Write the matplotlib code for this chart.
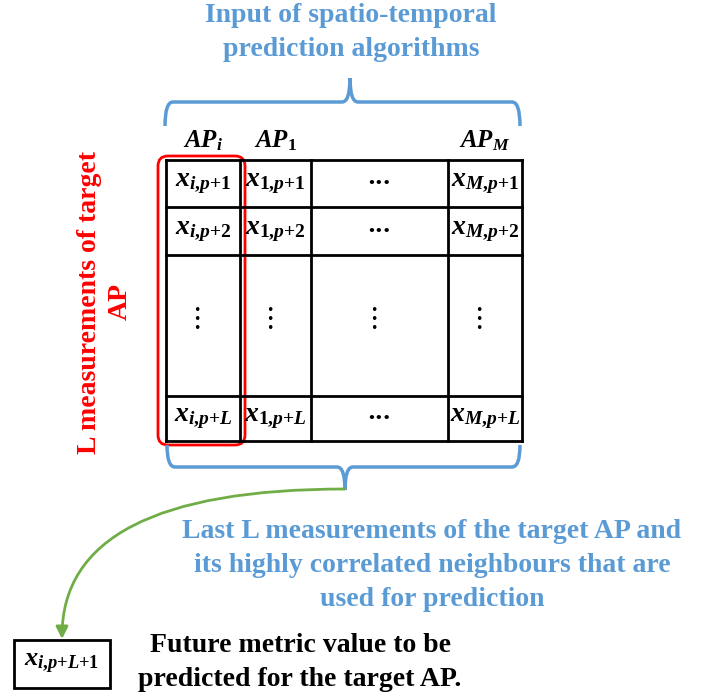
import matplotlib.pyplot as plt
from matplotlib.patches import FancyBboxPatch, FancyArrowPatch, PathPatch, Rectangle
from matplotlib.path import Path

plt.rcParams['font.family'] = ['Liberation Serif', 'DejaVu Serif']
plt.rcParams['mathtext.fontset'] = 'custom'
plt.rcParams['mathtext.it'] = 'Liberation Serif:italic:bold'
plt.rcParams['mathtext.rm'] = 'Liberation Serif:bold'
plt.rcParams['mathtext.bf'] = 'Liberation Serif:bold'

# 表头和单元格内容
headers = [r'$AP_i$', r'$AP_1$', '', r'$AP_M$']
cells = [
    [r'$x_{i{,}p{+}1}$', r'$x_{1{,}p{+}1}$', '•••', r'$x_{M{,}p{+}1}$'],
    [r'$x_{i{,}p{+}2}$', r'$x_{1{,}p{+}2}$', '•••', r'$x_{M{,}p{+}2}$'],
    ['vdots', 'vdots', 'vdots', 'vdots'],
    [r'$x_{i{,}p{+}L}$', r'$x_{1{,}p{+}L}$', '•••', r'$x_{M{,}p{+}L}$'],
]
target_cell = r'$x_{i{,}p{+}L{+}1}$'
top_text = ['Input of spatio-temporal', 'prediction algorithms']
bottom_text = ['Last L measurements of the target AP and',
               'its highly correlated neighbours that are',
               'used for prediction']
side_text = ['L measurements of target', 'AP']
future_text = ['Future metric value to be', 'predicted for the target AP.']

blue = '#5B9BD5'
green = '#70AD47'

# 表格网格（像素坐标）
col_edges = [166, 240, 311, 448, 522]
row_edges = [160, 207, 255, 396, 441]

fig = plt.figure(figsize=(7.12, 6.95), dpi=100)
ax = fig.add_axes([0, 0, 1, 1])
ax.set_xlim(0, 712)
ax.set_ylim(695, 0)
ax.axis('off')

for x in col_edges:
    ax.plot([x, x], [row_edges[0], row_edges[-1]], color='black', lw=2, solid_capstyle='projecting')
for y in row_edges:
    ax.plot([col_edges[0], col_edges[-1]], [y, y], color='black', lw=2, solid_capstyle='projecting')

for j, h in enumerate(headers):
    xc = (col_edges[j] + col_edges[j + 1]) / 2
    ax.text(xc, 141, h, ha='center', va='center', fontsize=18)

for i, row in enumerate(cells):
    yc = (row_edges[i] + row_edges[i + 1]) / 2
    for j, c in enumerate(row):
        xc = (col_edges[j] + col_edges[j + 1]) / 2
        if c == '•••':
            ax.text(xc, yc, c, ha='center', va='center', fontsize=9,
                    family=['DejaVu Sans'], fontweight='bold')
        elif c == 'vdots':
            ax.text(xc - 6, yc - 6, '•\n•\n•', ha='center', va='center', fontsize=9,
                    family=['DejaVu Sans'], linespacing=0.6)
        else:
            ax.text(xc, yc, c, ha='center', va='center', fontsize=20)

# 红色圆角框
ax.add_patch(FancyBboxPatch((158, 156), 87, 289, boxstyle='round,pad=0,rounding_size=10',
                            fill=False, ec='red', lw=2))


def brace(x0, x1, y_end, y_mid, y_tip, xc, r=8):
    verts = [(x0, y_end), (x0, y_mid), (x0 + r, y_mid),
             (xc - r, y_mid), (xc, y_mid), (xc, y_tip),
             (xc, y_mid), (xc + r, y_mid),
             (x1 - r, y_mid), (x1, y_mid), (x1, y_end)]
    codes = [Path.MOVETO, Path.CURVE3, Path.CURVE3,
             Path.LINETO, Path.CURVE3, Path.CURVE3,
             Path.CURVE3, Path.CURVE3,
             Path.LINETO, Path.CURVE3, Path.CURVE3]
    ax.add_patch(PathPatch(Path(verts, codes), fill=False, ec=blue, lw=2.5))


brace(165, 520, 126, 102, 78, 350)
brace(167, 520, 445, 467, 490, 345)

# 绿色弧形箭头
arc = Path([(345, 489), (62, 489), (62, 639)], [Path.MOVETO, Path.CURVE3, Path.CURVE3])
ax.add_patch(FancyArrowPatch(path=arc, arrowstyle='-|>', mutation_scale=18,
                             color=green, lw=2))

# 预测目标框
ax.add_patch(Rectangle((14, 640), 96, 48, fill=False, ec='black', lw=2))
ax.text(62, 664, target_cell, ha='center', va='center', fontsize=19)

for k, t in enumerate(top_text):
    ax.text(351, 16 + 33 * k, t, ha='center', va='center', fontsize=20,
            fontweight='bold', color=blue)
for k, t in enumerate(bottom_text):
    ax.text(432, 531 + 34 * k, t, ha='center', va='center', fontsize=20,
            fontweight='bold', color=blue)
for k, t in enumerate(future_text):
    ax.text(300, 645 + 35 * k, t, ha='center', va='center', fontsize=20,
            fontweight='bold', color='black')
for k, t in enumerate(side_text):
    ax.text(90 + 30 * k, 302, t, ha='center', va='center', fontsize=20,
            fontweight='bold', color='red', rotation=90)

fig.savefig('out.png', dpi=100)
